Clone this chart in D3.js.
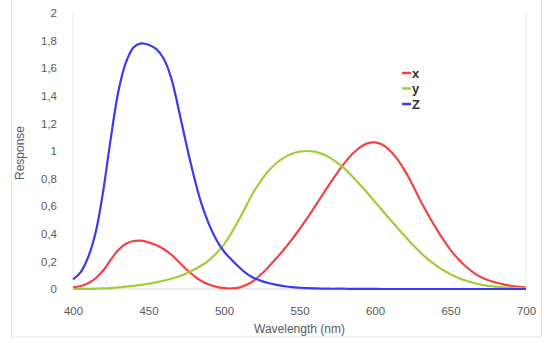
<!DOCTYPE html>
<html>
<head>
<meta charset="utf-8">
<script src="https://cdn.jsdelivr.net/npm/d3@7"></script>
<style>
  body { margin: 0; background: #fff; }
  svg { display: block; font-family: "Liberation Sans", Arial, sans-serif; }
  .axis text { fill: #595959; font-size: 11.5px; }
  .axis path, .axis line { stroke: none; }
</style>
</head>
<body>
<svg id="chart" width="549" height="343"></svg>
<script>
// wavelengths (nm), 5 nm steps
const wavelengths = d3.range(400, 701, 5);

// colour matching responses
const xValues = [0.012, 0.022, 0.042, 0.078, 0.134, 0.212, 0.282, 0.328, 0.348, 0.35,
  0.338, 0.318, 0.29, 0.25, 0.197, 0.143, 0.097, 0.058, 0.032, 0.015,
  0.006, 0.004, 0.01, 0.03, 0.063, 0.11, 0.166, 0.226, 0.29, 0.36,
  0.433, 0.512, 0.594, 0.678, 0.762, 0.842, 0.916, 0.978, 1.026, 1.055,
  1.062, 1.045, 1.002, 0.938, 0.854, 0.751, 0.642, 0.542, 0.448, 0.361,
  0.284, 0.219, 0.165, 0.121, 0.087, 0.064, 0.047, 0.033, 0.023, 0.016, 0.011];
const yValues = [0, 0.001, 0.001, 0.002, 0.004, 0.007, 0.012, 0.017, 0.023, 0.03,
  0.038, 0.048, 0.06, 0.074, 0.091, 0.113, 0.139, 0.17, 0.208, 0.259,
  0.323, 0.407, 0.503, 0.608, 0.71, 0.793, 0.862, 0.915, 0.954, 0.98,
  0.995, 1.0, 0.995, 0.979, 0.952, 0.915, 0.87, 0.816, 0.757, 0.695,
  0.631, 0.567, 0.503, 0.441, 0.381, 0.321, 0.265, 0.217, 0.175, 0.138,
  0.107, 0.082, 0.061, 0.045, 0.032, 0.023, 0.017, 0.012, 0.008, 0.006, 0.004];
const zValues = [0.07, 0.12, 0.23, 0.41, 0.71, 1.09, 1.43, 1.64, 1.75, 1.78,
  1.77, 1.74, 1.67, 1.53, 1.3, 1.05, 0.82, 0.62, 0.47, 0.355,
  0.272, 0.212, 0.158, 0.112, 0.078, 0.057, 0.042, 0.03, 0.02, 0.013,
  0.009, 0.006, 0.004, 0.003, 0.002, 0.002, 0.002, 0.001, 0.001, 0.001,
  0.001, 0, 0, 0, 0, 0, 0, 0, 0, 0,
  0, 0, 0, 0, 0, 0, 0, 0, 0, 0, 0];

const seriesNames = ["x", "y", "Z"];
const seriesColors = ["#f04444", "#a3cc3c", "#3a3af2"];
const yTicks = [0, 0.2, 0.4, 0.6, 0.8, 1, 1.2, 1.4, 1.6, 1.8, 2];
const xTicks = [400, 450, 500, 550, 600, 650, 700];

const svg = d3.select("#chart");
const W = +svg.attr("width"), H = +svg.attr("height");
const margin = { top: 13, right: 23, bottom: 54, left: 73 };
const width = W - margin.left - margin.right;
const height = H - margin.top - margin.bottom;

// outer frame
svg.append("rect")
  .attr("x", 11.5).attr("y", -1)
  .attr("width", 530).attr("height", 338)
  .attr("fill", "#fff")
  .attr("stroke", "#e4e4e4");

const g = svg.append("g")
  .attr("transform", "translate(" + margin.left + "," + margin.top + ")");

const x = d3.scaleLinear().domain([400, 700]).range([0, width]);
const y = d3.scaleLinear().domain([0, 2]).range([height, 0]);

const comma = d3.formatLocale({ decimal: ",", thousands: ".", grouping: [3], currency: ["", ""] });

// plot area edges
g.append("line").attr("x1", 0).attr("x2", 0).attr("y1", 0).attr("y2", height)
  .attr("stroke", "#ececec");
g.append("line").attr("x1", width).attr("x2", width).attr("y1", 0).attr("y2", height)
  .attr("stroke", "#ececec");
g.append("line").attr("x1", 0).attr("x2", width).attr("y1", height).attr("y2", height)
  .attr("stroke", "#d6d6d6");

g.append("g")
  .attr("class", "axis axis--x")
  .attr("transform", "translate(0," + height + ")")
  .call(d3.axisBottom(x).tickValues(xTicks).tickSize(0).tickPadding(18).tickFormat(d3.format("d")));

g.append("g")
  .attr("class", "axis axis--y")
  .call(d3.axisLeft(y).tickValues(yTicks).tickSize(0).tickPadding(16).tickFormat(comma.format("~g")));

svg.append("text")
  .attr("x", margin.left + width / 2)
  .attr("y", 333)
  .attr("text-anchor", "middle")
  .attr("fill", "#595959")
  .attr("font-size", "12px")
  .text("Wavelength (nm)");

svg.append("text")
  .attr("transform", "translate(24,153) rotate(-90)")
  .attr("text-anchor", "middle")
  .attr("fill", "#595959")
  .attr("font-size", "12px")
  .text("Response");

const series = [xValues, yValues, zValues].map((vals, i) => ({
  name: seriesNames[i],
  color: seriesColors[i],
  values: wavelengths.map((w, j) => ({ w: w, v: vals[j] }))
}));

const line = d3.line()
  .curve(d3.curveCatmullRom.alpha(0.5))
  .x(d => x(d.w))
  .y(d => y(d.v));

g.selectAll(".series")
  .data(series)
  .enter().append("path")
  .attr("class", "series")
  .attr("fill", "none")
  .attr("stroke", d => d.color)
  .attr("stroke-width", 2.2)
  .attr("stroke-linejoin", "round")
  .attr("d", d => line(d.values));

// legend
const legend = svg.append("g").attr("transform", "translate(402,73)");
const item = legend.selectAll("g")
  .data(series)
  .enter().append("g")
  .attr("transform", (d, i) => "translate(0," + i * 15.5 + ")");
item.append("line")
  .attr("x1", 0).attr("x2", 9)
  .attr("stroke", d => d.color)
  .attr("stroke-width", 2.5);
item.append("text")
  .attr("x", 10)
  .attr("dy", "0.36em")
  .attr("font-size", "13px")
  .attr("font-weight", "bold")
  .attr("fill", "#333")
  .text(d => d.name);
</script>
</body>
</html>
